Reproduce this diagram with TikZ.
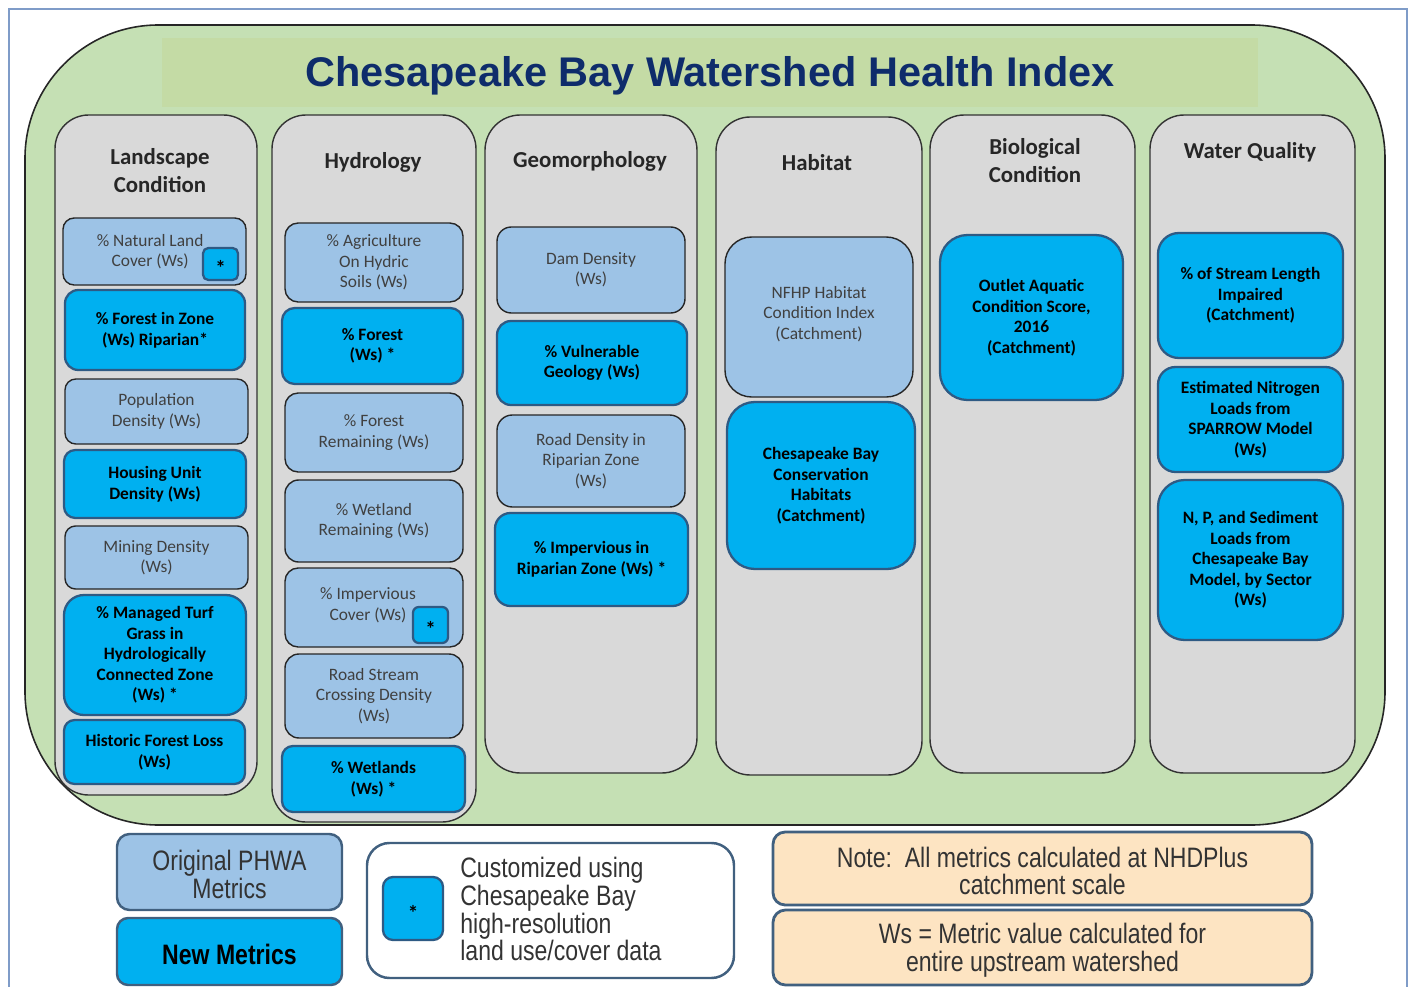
\documentclass[tikz,border=0pt]{standalone}
\usepackage{fontspec}
\setmainfont{Carlito}
\newfontfamily\titlefont{Liberation Sans}
\newfontfamily\legendfont{Liberation Sans}[FakeStretch=0.82]
\usetikzlibrary{fit}

\definecolor{frameblue}{HTML}{7F9CC8}
\definecolor{bggreen}{HTML}{C5E0B4}
\definecolor{bandgreen}{HTML}{C4DBA5}
\definecolor{colgray}{HTML}{D9D9D9}
\definecolor{oldblue}{HTML}{9DC3E6}
\definecolor{newblue}{HTML}{00B0F0}
\definecolor{newedge}{HTML}{2E5A84}
\definecolor{titlenavy}{HTML}{0E2C6B}
\definecolor{notepeach}{HTML}{FDE4C2}
\definecolor{noteedge}{HTML}{41607F}

\tikzset{
  indexbox/.style={draw=black!85, fill=bggreen, line width=0.9pt, inner sep=0pt},
  category/.style={draw=black!80, fill=colgray, line width=0.8pt, inner sep=0pt},
  header/.style={align=center, text=black!85, font=\fontsize{13}{15.9}\selectfont\bfseries},
  % 箱
  oldmetric/.style={draw=black!85, fill=oldblue, line width=0.8pt, inner sep=0pt},
  newmetric/.style={draw=newedge, fill=newblue, line width=1.3pt, inner sep=0pt},
  oldlegend/.style={draw=noteedge, fill=oldblue, line width=1.4pt, inner sep=0pt},
  newlegend/.style={draw=noteedge, fill=newblue, line width=1.4pt, inner sep=0pt},
  keybox/.style={draw=noteedge, fill=white, line width=1.4pt, inner sep=0pt},
  notebox/.style={draw=noteedge, fill=notepeach, line width=1.6pt, inner sep=0pt},
  % 文字
  oldtext/.style={align=center, inner sep=0pt, text=black!75,
    font=\fontsize{9.9}{11.6}\selectfont},
  newtext/.style={align=center, inner sep=0pt, text=black,
    font=\fontsize{9.9}{11.7}\selectfont\bfseries},
  startext/.style={inner sep=0pt, yshift=-2.5pt, text=black,
    font=\fontsize{12}{12}\selectfont\bfseries},
  legendtext/.style={align=center, inner sep=0pt, yshift=-1.4pt, text=black!80,
    font=\legendfont\fontsize{16}{15.9}\selectfont},
  legendbold/.style={legendtext, text=black, font=\legendfont\fontsize{16}{15.9}\selectfont\bfseries}
}

% 角丸の箱（半径は短辺の1/6）
\newcommand{\roundbox}[6]{%
  \pgfmathsetmacro{\rad}{0.1667*min(#5-#3,#6-#4)*0.02}%
  \node[#2, rounded corners=\rad cm, fit={(#3,#4) (#5,#6)}] (#1) {};%
}
% 文字入りの箱
\newcommand{\metricbox}[8]{%
  \roundbox{#1}{#2}{#4}{#5}{#6}{#7}%
  \node[#3] (#1text) at (#1.center) {#8};%
}

\begin{document}
\begin{tikzpicture}[x={(0.02cm,0)}, y={(0,-0.02cm)}]
    \useasboundingbox (0,0) rectangle (1411,987);

    % 外枠
    \draw[frameblue, line width=1pt] (9,995) -- (9,9) -- (1407,9) -- (1407,995);

    % 全体の箱とタイトル
    \roundbox{index}{indexbox}{25}{25}{1385}{825}
    \fill[bandgreen] (162,38) rectangle (1258,107);
    \node[text=titlenavy, font=\titlefont\fontsize{23.6}{28}\selectfont\bfseries] (title) at (710,76)
        {Chesapeake Bay Watershed Health Index};

    % 分類の列
    \roundbox{land}{category}{55}{115}{257}{795}
    \roundbox{hydro}{category}{272}{115}{476}{822}
    \roundbox{geo}{category}{485}{115}{697}{773}
    \roundbox{habitat}{category}{716}{117}{922}{775}
    \roundbox{bio}{category}{930}{115}{1135}{773}
    \roundbox{wq}{category}{1150}{115}{1355}{773}

    \node[header] (landhead) at (160,171) {Landscape\\Condition};
    \node[header] (hydrohead) at (373,162) {Hydrology};
    \node[header] (geohead) at (590,161) {Geomorphology};
    \node[header] (habitathead) at (817,163) {Habitat};
    \node[header] (biohead) at (1035,161) {Biological\\Condition};
    \node[header] (wqhead) at (1250,152) {Water Quality};

    % Landscape Condition
    \metricbox{land1}{oldmetric}{oldtext, xshift=-2.5pt}{63}{218}{246}{285}{\% Natural Land\\Cover (Ws)}
    \metricbox{land1star}{newmetric}{startext}{203}{248}{238}{280}{*}
    \metricbox{land2}{newmetric}{newtext}{65}{290}{245}{370}{\% Forest in Zone\\(Ws) Riparian*}
    \metricbox{land3}{oldmetric}{oldtext}{65}{379}{248}{444}{Population\\Density (Ws)}
    \metricbox{land4}{newmetric}{newtext}{64}{450}{246}{518}{Housing Unit\\Density (Ws)}
    \metricbox{land5}{oldmetric}{oldtext}{65}{526}{248}{589}{Mining Density\\(Ws)}
    \metricbox{land6}{newmetric}{newtext}{64}{595}{246}{715}{\% Managed Turf\\Grass in\\Hydrologically\\Connected Zone\\(Ws) *}
    \metricbox{land7}{newmetric}{newtext}{64}{720}{245}{784}{Historic Forest Loss\\(Ws)}

    % Hydrology
    \metricbox{hydro1}{oldmetric}{oldtext}{285}{223}{463}{302}{\% Agriculture\\On Hydric\\Soils (Ws)}
    \metricbox{hydro2}{newmetric}{newtext}{282}{308}{463}{384}{\% Forest\\(Ws) *}
    \metricbox{hydro3}{oldmetric}{oldtext}{285}{393}{463}{472}{\% Forest\\Remaining (Ws)}
    \metricbox{hydro4}{oldmetric}{oldtext}{285}{480}{463}{562}{\% Wetland\\Remaining (Ws)}
    \metricbox{hydro5}{oldmetric}{oldtext, xshift=-3.4pt, yshift=1.4pt}{285}{568}{463}{647}{\% Impervious\\Cover (Ws)}
    \metricbox{hydro5star}{newmetric}{startext}{413}{607}{448}{643}{*}
    \metricbox{hydro6}{oldmetric}{oldtext}{285}{654}{463}{738}{Road Stream\\Crossing Density\\(Ws)}
    \metricbox{hydro7}{newmetric}{newtext}{282}{746}{465}{812}{\% Wetlands\\(Ws) *}

    % Geomorphology
    \metricbox{geo1}{oldmetric}{oldtext}{497}{227}{685}{313}{Dam Density\\(Ws)}
    \metricbox{geo2}{newmetric}{newtext}{497}{321}{687}{405}{\% Vulnerable\\Geology (Ws)}
    \metricbox{geo3}{oldmetric}{oldtext}{497}{415}{685}{507}{Road Density in\\Riparian Zone\\(Ws)}
    \metricbox{geo4}{newmetric}{newtext}{495}{513}{688}{606}{\% Impervious in\\Riparian Zone (Ws) *}

    % Habitat
    \metricbox{habitat1}{oldmetric}{oldtext, yshift=1.7pt}{725}{237}{913}{397}{NFHP Habitat\\Condition Index\\(Catchment)}
    \metricbox{habitat2}{newmetric}{newtext}{727}{402}{915}{569}{Chesapeake Bay\\Conservation\\Habitats\\(Catchment)}

    % Biological Condition
    \metricbox{bio1}{newmetric}{newtext}{940}{235}{1123}{400}{Outlet Aquatic\\Condition Score,\\2016\\(Catchment)}

    % Water Quality
    \metricbox{wq1}{newmetric}{newtext}{1158}{233}{1343}{358}{\% of Stream Length\\Impaired\\(Catchment)}
    \metricbox{wq2}{newmetric}{newtext}{1158}{367}{1343}{472}{Estimated Nitrogen\\Loads from\\SPARROW Model\\(Ws)}
    \metricbox{wq3}{newmetric}{newtext}{1158}{480}{1343}{640}{N, P, and Sediment\\Loads from\\Chesapeake Bay\\Model, by Sector\\(Ws)}

    % 凡例
    \metricbox{oldkey}{oldlegend}{legendtext}{117}{834}{342}{910}{Original PHWA\\Metrics}
    \metricbox{newkey}{newlegend}{legendbold}{117}{918}{342}{985}{New Metrics}
    \roundbox{starkey}{keybox}{367}{843}{734}{978}
    \metricbox{starkeybox}{newmetric}{startext}{383}{877}{443}{940}{*}
    \node[anchor=west, align=left, text=black!80, inner sep=0pt,
        font=\legendfont\fontsize{16}{15.9}\selectfont] (starnote) at (460,909)
        {Customized using\\Chesapeake Bay\\high-resolution\\land use/cover data};
    \metricbox{note1}{notebox}{legendtext}{773}{832}{1312}{905}{Note:\ \ All metrics calculated at NHDPlus\\catchment scale}
    \metricbox{note2}{notebox}{legendtext}{773}{910}{1312}{985}{Ws = Metric value calculated for\\entire upstream watershed}
\end{tikzpicture}
\end{document}
